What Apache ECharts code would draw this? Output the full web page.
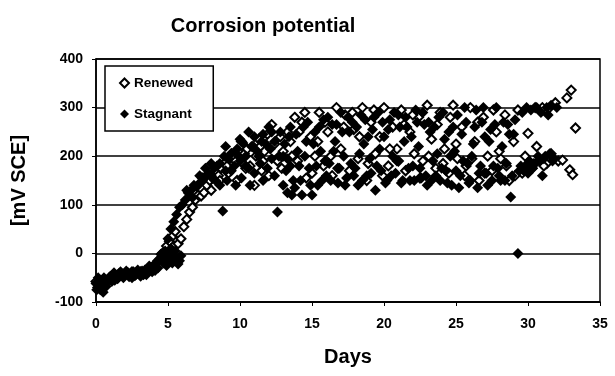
<!DOCTYPE html>
<html>
<head>
<meta charset="utf-8">
<script src="https://cdn.jsdelivr.net/npm/echarts@6/dist/echarts.min.js"></script>
<style>
html,body{margin:0;padding:0;background:#fff;}
#chart{width:615px;height:376px;}
</style>
</head>
<body>
<div id="chart"></div>
<script>
var titleText = "Corrosion potential";
var xAxisName = "Days";
var yAxisName = "[mV SCE]";
var xTicks = [0, 5, 10, 15, 20, 25, 30, 35];
var yTicks = [-100, 0, 100, 200, 300, 400];

// Renewed: [day, mV]
var renewed = [
[0,-58],[0.2,-64],[0.4,-72],[0.6,-60],[0.8,-55],[1.0,-48],[1.3,-45],[1.6,-42],[1.9,-44],[2.2,-40],
[2.5,-38],[2.8,-42],[3.1,-38],[3.4,-35],[3.7,-30],[4.0,-25],[4.3,-15],[4.6,0],[4.9,15],[5.1,25],
[5.3,35],[5.5,45],[5.7,20],[5.9,30],[6.1,55],[6.3,70],[6.5,85],[6.7,95],[6.9,110],[7.1,120],
[7.3,118],[7.5,125],[7.7,140],[7.9,150],[8.1,155],[8.3,170],[8.5,160],[8.7,175],[8.9,185],[9.1,180],
[9.3,195],[9.5,200],[9.7,190],[9.9,210],[10.1,230],[10.3,205],[10.5,215],[10.7,180],[10.9,220],[11.1,200],
[11.3,235],[11.5,170],[11.7,210],[11.9,245],[12.2,265],[12.4,225],[12.6,190],[12.8,240],[13.0,210],[13.3,250],
[13.5,230],[13.8,280],[14.0,190],[14.3,270],[14.6,155],[14.9,240],[15.2,200],[15.5,290],[15.8,180],[16.1,250],
[16.4,160],[16.7,300],[17.0,215],[17.3,285],[17.6,170],[17.9,255],[18.2,195],[18.5,300],[18.8,150],[19.1,270],
[19.4,205],[19.7,240],[20.0,300],[20.3,180],[20.6,260],[20.9,215],[21.2,295],[21.5,170],[21.8,250],[22.1,205],
[22.4,280],[22.7,190],[23.0,305],[23.3,235],[23.6,175],[23.9,290],[24.2,215],[24.5,165],[24.8,305],[25.1,195],
[25.4,260],[25.7,180],[26.0,300],[26.3,230],[26.6,150],[26.9,280],[27.2,200],[27.5,170],[27.8,250],[28.1,195],
[28.4,285],[28.7,150],[29.0,230],[29.3,295],[29.6,165],[30.0,247],[30.3,175],[30.6,220],[31.0,300],[31.3,185],
[31.6,205],[31.9,310],[32.1,190],[32.4,192],[32.7,320],[32.9,172],[33.0,336],[33.1,162],[33.3,258],
[13.6,200],[14.1,250],[14.5,290],[15.0,165],[15.4,230],[15.9,270],[16.3,200],[16.8,175],[17.2,260],[17.8,290],
[18.3,240],[18.9,185],[19.3,295],[19.9,160],[20.4,215],[21.0,190],[21.4,265],[22.0,285],[22.5,155],[23.1,200],
[23.7,265],[24.1,185],[24.6,280],[25.0,225],[25.6,160],[26.1,195],[26.5,270],[27.0,165],[27.6,295],[28.0,210],
[28.5,180],[29.1,160],[29.8,200],[30.5,300],[31.1,180],[31.5,300],
[7.4,155],[8.0,130],[8.6,150],[9.2,165],[9.8,150],[10.4,175],[11.0,140],[11.6,190],[12.0,160],[12.9,175],
[10.2,185],[11.4,220]
];

// Stagnant: [day, mV]
var stagnant = [
[0,-62],[0.1,-70],[0.2,-58],[0.3,-75],[0.4,-66],[0.5,-80],[0.6,-62],[0.7,-55],[0.8,-58],[0.9,-50],
[1.0,-52],[1.2,-48],[1.4,-45],[1.6,-46],[1.8,-42],[2.0,-44],[2.2,-40],[2.4,-42],[2.6,-38],[2.8,-40],
[3.0,-42],[3.2,-36],[3.4,-38],[3.6,-32],[3.8,-30],[4.0,-28],[4.2,-20],[4.4,-12],[4.6,-5],[4.8,5],
[5.0,-2],[5.2,10],[5.4,-8],[5.6,-12],[5.8,-15],[5.0,30],[5.2,50],[5.4,65],[5.6,80],[5.8,95],
[1.1,-58],[1.5,-52],[1.9,-50],[2.3,-48],[2.7,-46],[3.1,-47],[3.5,-44],[3.9,-38],[4.3,-30],[4.7,-20],
[0.15,-50],[0.45,-56],[1.25,-40],[2.1,-36],[2.9,-34],[3.7,-26],[4.5,-2],[4.9,-12],[5.5,5],[5.9,-5],
[0.3,-55],[0.7,-68],[1.3,-55],[1.7,-38],[2.5,-50],[3.3,-44],[4.1,-35],[4.9,-25],[5.3,-20],[5.7,-22],
[0.05,-75],[0.55,-50],
[6.0,100],[6.2,110],[6.4,125],[6.6,130],[6.8,140],[7.0,137],[7.2,145],[7.4,150],[7.6,157],[7.8,165],
[8.0,160],[8.2,175],[8.4,180],[8.6,185],[8.8,87],[9.0,170],[9.2,195],[9.4,206],[9.6,180],[9.8,215],
[10.0,190],[10.2,227],[10.4,200],[10.6,175],[10.8,220],[11.0,240],[11.2,210],[11.4,185],[11.6,245],[11.8,225],
[12.0,260],[12.2,195],[12.4,230],[12.6,85],[12.8,250],[13.0,200],[13.2,170],[13.4,240],[13.6,120],[13.8,135],
[7.2,160],[7.6,175],[8.0,185],[8.3,150],[8.6,140],[8.9,200],[9.1,150],[9.4,170],[9.7,140],[9.9,200],
[10.1,155],[10.4,180],[10.7,140],[11.0,165],[11.3,200],[11.6,150],[11.9,175],[12.1,215],[12.4,160],[12.7,200],
[13.0,140],[13.3,125],[13.5,180],[6.3,130],[6.7,115],[9.0,220],[10.0,235],[10.6,250],[11.5,230],[12.2,250],
[14.0,210],[14.2,150],[14.4,260],[14.6,230],[14.8,175],[15.0,120],[15.2,250],[15.4,140],[15.6,210],[15.8,275],
[16.0,160],[16.2,185],[16.4,265],[16.6,230],[16.8,145],[17.0,290],[17.2,200],[17.4,155],[17.6,250],[17.8,270],
[18.0,175],[18.2,140],[18.4,285],[18.6,225],[18.8,160],[19.0,195],[19.2,255],[19.4,130],[19.6,290],[19.8,170],
[20.0,240],[20.2,150],[20.4,275],[20.6,200],[20.8,165],[21.0,285],[21.2,145],[21.4,230],[21.6,260],[21.8,150],
[22.0,180],[22.2,295],[22.4,220],[22.6,155],[22.8,265],[23.0,140],[23.2,250],[23.4,190],[23.6,160],[23.8,280],
[24.0,175],[24.2,235],[24.4,145],[24.6,200],[24.8,260],[25.0,170],[25.2,135],[25.4,245],[25.6,300],[25.8,185],
[26.0,150],[26.2,225],[26.4,295],[26.6,165],[26.8,270],[27.0,240],[27.2,140],[27.4,255],[27.6,180],[27.8,300],
[28.0,160],[28.2,220],[28.4,150],[28.6,265],[28.8,116],[29.0,245],[29.3,0],[29.4,170],[29.6,290],[29.8,180],
[30.0,165],[30.2,295],[30.4,185],[30.6,300],[30.8,190],[31.0,160],[31.2,200],[31.4,285],[31.6,305],[31.8,195],
[32.0,300],
[13.1,225],[13.3,195],[13.5,260],[13.7,150],[13.9,245],[14.1,180],[14.3,120],[14.5,200],[14.7,270],[14.9,140],
[15.1,225],[15.3,180],[15.5,260],[15.7,150],[15.9,190],[16.1,280],[16.3,150],[16.5,210],[16.7,265],[16.9,175],
[17.1,250],[17.3,140],[17.5,280],[17.7,185],[17.9,160],[18.1,260],[18.3,205],[18.5,150],[18.7,275],[18.9,240],
[19.1,165],[19.3,280],[19.5,180],[19.7,215],[19.9,270],[20.1,145],[20.3,255],[20.5,160],[20.7,290],[20.9,190],
[21.1,260],[21.3,150],[21.5,280],[21.7,175],[21.9,240],[22.1,150],[22.3,270],[22.5,175],[22.7,290],[22.9,160],
[23.1,270],[23.3,150],[23.5,260],[23.7,205],[23.9,150],[24.1,290],[24.3,170],[24.5,250],[24.7,140],[24.9,210],
[25.1,285],[25.3,160],[25.5,190],[25.7,270],[25.9,145],[26.1,200],[26.3,260],[26.5,135],[26.7,180],[26.9,300],
[27.1,165],[27.3,230],[27.5,150],[27.7,265],[27.9,175],[28.1,150],[28.3,270],[28.5,185],[28.7,245],[28.9,160],
[29.1,275],[29.5,180],[29.7,170],[29.9,300],[30.1,190],[30.3,175],[30.5,185],[30.7,200],[30.9,290],[31.1,195],
[31.3,300],[31.5,205],[31.7,190]
];

var FONT = "Liberation Sans, Arial, sans-serif";
var chart = echarts.init(document.getElementById('chart'), null, {renderer: 'canvas'});
chart.setOption({
  animation: false,
  backgroundColor: '#fff',
  title: {
    text: titleText,
    left: 258, top: 11, textAlign: 'center',
    textStyle: {fontFamily: FONT, fontWeight: 'bold', fontSize: 20, color: '#000'}
  },
  legend: {
    orient: 'vertical',
    left: 105, top: 66,
    itemWidth: 9, itemHeight: 9,
    itemGap: 17,
    padding: [10, 20, 10, 14],
    borderColor: '#000', borderWidth: 1.5,
    backgroundColor: '#fff',
    textStyle: {fontFamily: FONT, fontWeight: 'bold', fontSize: 13.5, color: '#000'},
    data: ['Renewed', 'Stagnant']
  },
  grid: {
    left: 96, right: 15, top: 59, bottom: 74,
    show: true, borderColor: '#000', borderWidth: 1.5
  },
  xAxis: {
    type: 'value', min: xTicks[0], max: xTicks[xTicks.length - 1], interval: 5,
    name: xAxisName, nameLocation: 'middle', nameGap: 45,
    nameTextStyle: {fontFamily: FONT, fontWeight: 'bold', fontSize: 20, color: '#000'},
    axisLine: {show: true, onZero: false, lineStyle: {color: '#000', width: 1.5}},
    axisTick: {show: true, length: 4, lineStyle: {color: '#000', width: 1}},
    axisLabel: {margin: 15, fontFamily: FONT, fontWeight: 'bold', fontSize: 14, color: '#000'},
    splitLine: {show: false}
  },
  yAxis: {
    type: 'value', min: yTicks[0], max: yTicks[yTicks.length - 1], interval: 100,
    name: yAxisName, nameLocation: 'middle', nameGap: 67, nameRotate: 90,
    nameTextStyle: {fontFamily: FONT, fontWeight: 'bold', fontSize: 20, color: '#000'},
    axisLine: {show: true, onZero: false, lineStyle: {color: '#000', width: 1.5}},
    axisTick: {show: true, length: 4, lineStyle: {color: '#000', width: 1}},
    axisLabel: {margin: 13, fontFamily: FONT, fontWeight: 'bold', fontSize: 14, color: '#000'},
    splitLine: {show: true, lineStyle: {color: '#000', width: 1.5}}
  },
  series: [
    {
      name: 'Renewed', type: 'scatter', symbol: 'diamond', symbolSize: 9,
      itemStyle: {color: '#fff', borderColor: '#000', borderWidth: 2, opacity: 1},
      data: renewed
    },
    {
      name: 'Stagnant', type: 'scatter', symbol: 'diamond', symbolSize: 11,
      itemStyle: {color: '#000', opacity: 1},
      data: stagnant
    }
  ]
});
</script>
</body>
</html>
